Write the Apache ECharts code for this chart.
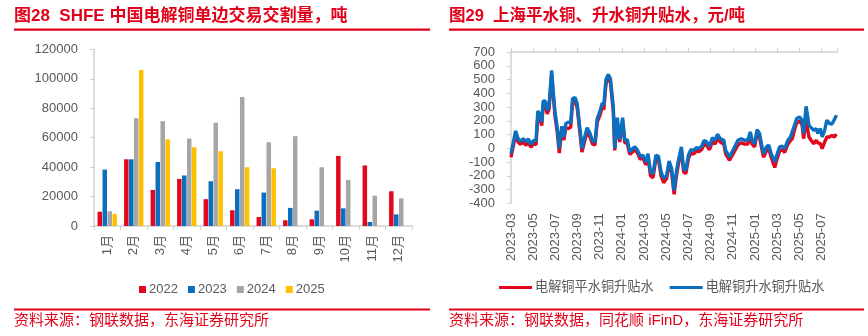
<!DOCTYPE html>
<html>
<head>
<meta charset="utf-8">
<script src="https://cdn.jsdelivr.net/npm/echarts@6/dist/echarts.min.js"></script>
<style>
html,body{margin:0;padding:0;background:#fff;}
#c{width:868px;height:336px;}
</style>
</head>
<body>
<div id="c"></div>
<script>
// ---- Left panel: SHFE cathode copper one-way delivery volume (tonnes) ----
const months = ['1月','2月','3月','4月','5月','6月','7月','8月','9月','10月','11月','12月'];
const vol2022 = [9700, 45300, 24500, 32000, 18200, 10700, 6100, 3900, 4500, 47600, 41100, 23600];
const vol2023 = [38300, 45300, 43500, 34300, 30400, 25000, 22700, 12300, 10400, 12000, 2700, 7900];
const vol2024 = [10000, 73200, 71200, 59400, 70100, 87600, 56900, 61000, 39900, 31300, 20600, 18800];
const vol2025 = [8200, 106000, 58800, 53500, 50800, 39900, 39200, null, null, null, null, null];
const volYears = ['2022', '2023', '2024', '2025'];

// ---- Right panel: Shanghai flat-copper / premium-copper spread (yuan/tonne) ----
const spreadDates = [
  '2023-03-01','2023-03-14','2023-03-21','2023-03-27','2023-04-04','2023-04-11','2023-04-18','2023-04-25',
  '2023-05-02','2023-05-09','2023-05-14','2023-05-20','2023-05-25','2023-05-29','2023-06-04','2023-06-09',
  '2023-06-14','2023-06-21','2023-06-25','2023-06-30','2023-07-06','2023-07-12','2023-07-19','2023-07-25',
  '2023-07-30','2023-08-06','2023-08-13','2023-08-18','2023-08-25','2023-08-31','2023-09-08','2023-09-13',
  '2023-09-19','2023-09-27','2023-10-05','2023-10-12','2023-10-19','2023-10-25','2023-11-01','2023-11-08',
  '2023-11-12','2023-11-18','2023-11-24','2023-11-30','2023-12-08','2023-12-12','2023-12-19','2023-12-26',
  '2024-01-03','2024-01-09','2024-01-16','2024-01-23','2024-01-31','2024-02-06','2024-02-13','2024-02-20',
  '2024-02-27','2024-03-06','2024-03-12','2024-03-19','2024-03-26','2024-04-03','2024-04-10','2024-04-17',
  '2024-04-24','2024-05-02','2024-05-09','2024-05-16','2024-05-23','2024-05-30','2024-06-05','2024-06-12',
  '2024-06-18','2024-06-24','2024-07-01','2024-07-08','2024-07-16','2024-07-23','2024-07-30','2024-08-07',
  '2024-08-14','2024-08-21','2024-08-29','2024-09-06','2024-09-13','2024-09-20','2024-09-27','2024-10-07',
  '2024-10-12','2024-10-23','2024-11-04','2024-11-15','2024-11-24','2024-12-03','2024-12-12','2024-12-19',
  '2024-12-24','2024-12-31','2025-01-07','2025-01-14','2025-01-19','2025-01-25','2025-02-02','2025-02-08',
  '2025-02-14','2025-02-23','2025-02-28','2025-03-08','2025-03-15','2025-03-22','2025-03-31','2025-04-07',
  '2025-04-12','2025-04-18','2025-04-24','2025-05-02','2025-05-09','2025-05-13','2025-05-20','2025-05-28',
  '2025-06-03','2025-06-10','2025-06-17','2025-06-21','2025-06-28','2025-07-03','2025-07-10','2025-07-16',
  '2025-07-24','2025-07-30','2025-08-05','2025-08-12'
];
const flatSpread = [
  -65, 100, 45, 30, 45, 22, 42, 8,
  35, 25, 240, 210, 165, 315, 310, 250,
  285, 540, 395, 235, 125, -35, 130, 60,
  150, 143, 155, 330, 340, 295, 100, -27,
  40, 120, 80, 30, 25, 190, 235, 300,
  280, 470, 505, 480, 270, -15, 195, 45,
  200, 40, 40, -45, -25, -10, -35, -80,
  -70, -120, -60, -200, -215, -75, -85, -200,
  -250, -220, -120, -175, -335, -190, -100, -20,
  -170, -185, -75, -35, -40, -20, -25, -10,
  30, 20, -10, 50, 30, 75, 45, 30,
  -40, -87, -30, 25, 40, 30, 30, 90,
  30, 10, 105, 80, 10, -65, -20, -5,
  -65, -140, -85, -20, -10, -30, 30, 55,
  70, 135, 185, 200, 167, 70, 204, 82,
  58, 34, 58, 40, 34, -2, 46, 82,
  82, 95, 82, 102
];
const premiumSpread = [
  -40, 126, 70, 51, 70, 46, 68, 29,
  58, 53, 271, 247, 190, 344, 342, 276,
  313, 567, 422, 264, 155, -2, 160, 82,
  179, 190, 184, 361, 368, 325, 131, -2,
  70, 150, 107, 53, 46, 216, 264, 330,
  313, 500, 536, 507, 300, 0, 223, 63,
  223, 58, 63, -27, -2, 10, -15, -58,
  -51, -99, -39, -172, -184, -51, -58, -172,
  -221, -196, -92, -148, -305, -160, -75, 10,
  -148, -160, -51, -10, -15, 5, -2, 15,
  58, 46, 15, 78, 58, 102, 70, 58,
  -15, -63, -2, 58, 70, 58, 58, 119,
  58, 34, 136, 107, 34, -39, 10, 22,
  -39, -99, -51, 10, 15, -2, 58, 82,
  95, 167, 216, 228, 204, 107, 305, 167,
  150, 131, 143, 107, 143, 82, 131, 204,
  179, 175, 204, 240
];
const spreadNames = ['电解铜平水铜升贴水', '电解铜升水铜升贴水'];

// position along the month axis: 0 = start of March 2023
function monthPos(s) {
  const [y, m, d] = s.split('-').map(Number);
  const dim = new Date(y, m, 0).getDate();
  return (y - 2023) * 12 + (m - 3) + (d - 1) / dim;
}
function monthLabel(v) {
  const k = Math.round(v) + 2;
  const y = 2023 + Math.floor(k / 12);
  const m = (k % 12) + 1;
  return y + '-' + (m < 10 ? '0' + m : m);
}
const plainNumber = v => String(v);

const RED = '#e2071d', BLUE = '#0b6fc0', GRAY = '#a6a6a6', YELLOW = '#ffc000';
const TXT = '#595959', AXIS = '#d0d0d0', BRAND = '#e2001a';
const FONT = '"Liberation Sans", "Noto Sans CJK SC", sans-serif';

const chart = echarts.init(document.getElementById('c'), null, { renderer: 'canvas' });

const axisLabelStyle = { color: TXT, fontSize: 13, fontFamily: FONT };

const option = {
  animation: false,
  textStyle: { fontFamily: FONT },
  grid: [
    { left: 94, top: 49.3, width: 318, height: 176.7 },
    { left: 511, top: 52, width: 326, height: 151.3 }
  ],
  legend: [
    {
      data: volYears,
      left: 134, top: 278,
      icon: 'rect', itemWidth: 7, itemHeight: 7, itemGap: 10,
      textStyle: { color: TXT, fontSize: 13, padding: [0, 0, 0, -2] }
    },
    {
      data: spreadNames,
      left: 494, top: 276,
      icon: 'rect', itemWidth: 33, itemHeight: 3, itemGap: 16,
      textStyle: { color: TXT, fontSize: 13.2, padding: [0, 0, 0, -2] }
    }
  ],
  xAxis: [
    {
      gridIndex: 0, type: 'category', data: months,
      axisLine: { lineStyle: { color: AXIS, width: 1.5 } },
      axisTick: { show: true, length: 4, lineStyle: { color: AXIS } },
      axisLabel: Object.assign({ rotate: 90, margin: 9, interval: 0 }, axisLabelStyle)
    },
    {
      // labelled time axis along the bottom of the spread panel
      gridIndex: 1, type: 'value', min: 0, max: 29.4, interval: 2,
      axisLine: { show: false }, axisTick: { show: false }, splitLine: { show: false },
      axisLabel: Object.assign({ rotate: 90, margin: 10, formatter: monthLabel, showMaxLabel: false }, axisLabelStyle)
    },
    {
      // zero line with its ticks
      gridIndex: 1, type: 'value', min: 0, max: 29.4, interval: 2,
      axisLine: { onZero: true, lineStyle: { color: AXIS, width: 1.5 } },
      axisTick: { show: true, length: 4, lineStyle: { color: AXIS } },
      axisLabel: { show: false }, splitLine: { show: false }
    }
  ],
  yAxis: [
    {
      gridIndex: 0, type: 'value', min: 0, max: 120000, interval: 20000,
      axisLine: { show: true, lineStyle: { color: AXIS, width: 1.5 } },
      axisTick: { show: true, length: 4, lineStyle: { color: AXIS } },
      splitLine: { show: false },
      axisLabel: Object.assign({ margin: 16, formatter: plainNumber }, axisLabelStyle)
    },
    {
      gridIndex: 1, type: 'value', min: -400, max: 700, interval: 100,
      axisLine: { show: true, onZero: false, lineStyle: { color: AXIS, width: 1.5 } },
      axisTick: { show: true, length: 4, lineStyle: { color: AXIS } },
      splitLine: { show: false },
      axisLabel: Object.assign({ margin: 16, formatter: plainNumber }, axisLabelStyle)
    }
  ],
  series: [
    { name: '2022', type: 'bar', xAxisIndex: 0, yAxisIndex: 0, data: vol2022, itemStyle: { color: RED }, barCategoryGap: '27%', barGap: '10%' },
    { name: '2023', type: 'bar', xAxisIndex: 0, yAxisIndex: 0, data: vol2023, itemStyle: { color: BLUE } },
    { name: '2024', type: 'bar', xAxisIndex: 0, yAxisIndex: 0, data: vol2024, itemStyle: { color: GRAY } },
    { name: '2025', type: 'bar', xAxisIndex: 0, yAxisIndex: 0, data: vol2025, itemStyle: { color: YELLOW } },
    {
      name: spreadNames[0], type: 'line', xAxisIndex: 1, yAxisIndex: 1,
      data: spreadDates.map((d, i) => [monthPos(d), flatSpread[i]]),
      showSymbol: false, symbol: 'none',
      lineStyle: { color: RED, width: 3.4 }, itemStyle: { color: RED }
    },
    {
      name: spreadNames[1], type: 'line', xAxisIndex: 1, yAxisIndex: 1,
      data: spreadDates.map((d, i) => [monthPos(d), premiumSpread[i]]),
      showSymbol: false, symbol: 'none',
      lineStyle: { color: BLUE, width: 3.4 }, itemStyle: { color: BLUE }
    }
  ],
  graphic: [
    { type: 'text', left: 14, top: 8, style: { text: '图28  SHFE 中国电解铜单边交易交割量，吨', fill: BRAND, font: 'bold 17px ' + FONT } },
    { type: 'rect', shape: { x: 14, y: 28.5, width: 416, height: 2.2 }, style: { fill: BRAND } },
    { type: 'text', left: 449, top: 8, style: { text: '图29  上海平水铜、升水铜升贴水，元/吨', fill: BRAND, font: 'bold 16.5px ' + FONT } },
    { type: 'rect', shape: { x: 449, y: 28.5, width: 415, height: 2.2 }, style: { fill: BRAND } },
    { type: 'rect', shape: { x: 14, y: 308.6, width: 416, height: 2 }, style: { fill: BRAND } },
    { type: 'rect', shape: { x: 449, y: 308.6, width: 415, height: 2 }, style: { fill: BRAND } },
    { type: 'text', left: 14, top: 313, style: { text: '资料来源：钢联数据，东海证券研究所', fill: BRAND, font: '15px ' + FONT } },
    { type: 'text', left: 449, top: 313, style: { text: '资料来源：钢联数据，同花顺 iFinD，东海证券研究所', fill: BRAND, font: '15px ' + FONT } }
  ]
};

chart.setOption(option);
</script>
</body>
</html>
